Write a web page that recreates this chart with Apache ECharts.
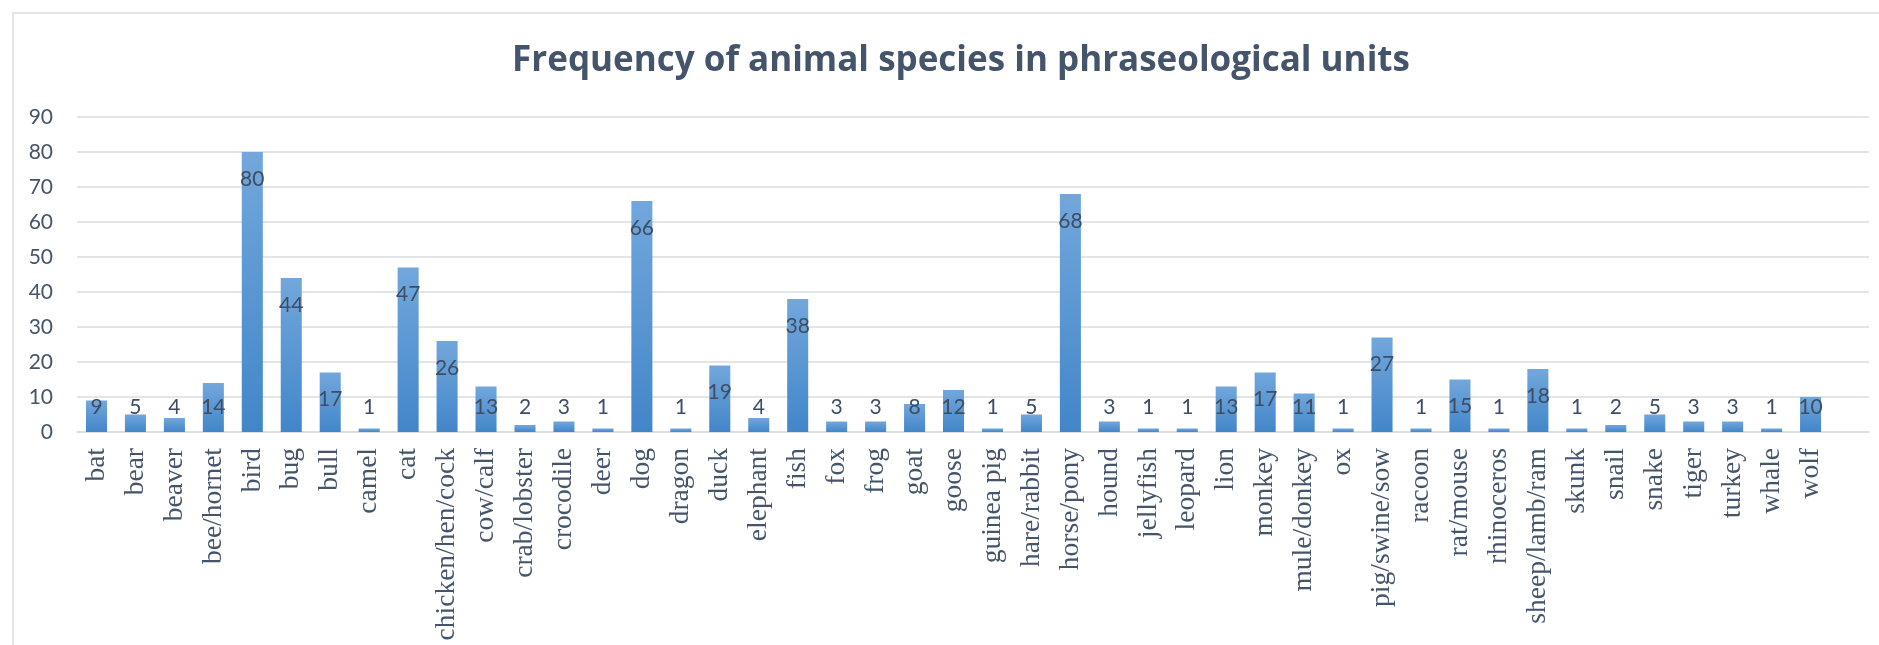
<!DOCTYPE html>
<html>
<head>
<meta charset="utf-8">
<script src="https://cdn.jsdelivr.net/npm/echarts@6/dist/echarts.min.js"></script>
<style>html,body{margin:0;padding:0;background:#fff}#c{width:1879px;height:645px}</style>
</head>
<body>
<div id="c"></div>
<script>
const titleText = 'Frequency of animal species in phraseological units';
const categories = ['bat','bear','beaver','bee/hornet','bird','bug','bull','camel','cat','chicken/hen/cock','cow/calf','crab/lobster','crocodile','deer','dog','dragon','duck','elephant','fish','fox','frog','goat','goose','guinea pig','hare/rabbit','horse/pony','hound','jellyfish','leopard','lion','monkey','mule/donkey','ox','pig/swine/sow','racoon','rat/mouse','rhinoceros','sheep/lamb/ram','skunk','snail','snake','tiger','turkey','whale','wolf',''];
const values = [9,5,4,14,80,44,17,1,47,26,13,2,3,1,66,1,19,4,38,3,3,8,12,1,5,68,3,1,1,13,17,11,1,27,1,15,1,18,1,2,5,3,3,1,10];
const yTicks = [0,10,20,30,40,50,60,70,80,90];

const textColor = '#44546a';
const chart = echarts.init(document.getElementById('c'), null, {renderer:'canvas'});
chart.setOption({
  animation: false,
  backgroundColor: '#ffffff',
  graphic: [{
    type: 'rect', shape: {x: 13, y: 13, width: 1900, height: 700},
    style: {fill: 'none', stroke: '#d9dde3', lineWidth: 1.5}, z: -10
  }],
  title: {
    text: titleText, left: 956, textAlign: 'center', top: 39,
    textStyle: {fontFamily: 'Open Sans', fontWeight: 'bold', fontSize: 35, color: textColor}
  },
  grid: {left: 77, right: 10, top: 117, bottom: 213, containLabel: false, outerBoundsMode: 'none'},
  xAxis: {
    type: 'category', data: categories,
    axisTick: {show: false},
    axisLine: {lineStyle: {color: '#d9dde3', width: 1.5}},
    axisLabel: {rotate: 90, interval: 0, margin: 16, color: textColor, fontFamily: 'Liberation Serif', fontSize: 27.5}
  },
  yAxis: {
    type: 'value', min: yTicks[0], max: yTicks[yTicks.length-1], interval: 10,
    axisLine: {show: false}, axisTick: {show: false},
    splitLine: {lineStyle: {color: '#d9dde3', width: 1.5}},
    axisLabel: {margin: 24, color: textColor, fontFamily: 'Lato', fontSize: 21}
  },
  series: [{
    type: 'bar', data: values, barWidth: '54%',
    itemStyle: {color: new echarts.graphic.LinearGradient(0,0,0,1,[{offset:0,color:'#72a7dc'},{offset:1,color:'#4286c9'}])}
  }, {
    type: 'custom', z: 10,
    data: values.map((v,i)=>[i,v]),
    renderItem: function(params, api) {
      const v = api.value(1);
      const p = api.coord([api.value(0), v]);
      const z0 = api.coord([api.value(0), 0]);
      const y = Math.min(p[1] + 27, z0[1] - 25);
      return {type:'text', x: p[0], y: y, style: {text: String(v), align:'center', verticalAlign:'middle', fill:'#3f4d63', fontFamily:'Lato', fontSize: 21}};
    }
  }]
});
</script>
</body>
</html>
